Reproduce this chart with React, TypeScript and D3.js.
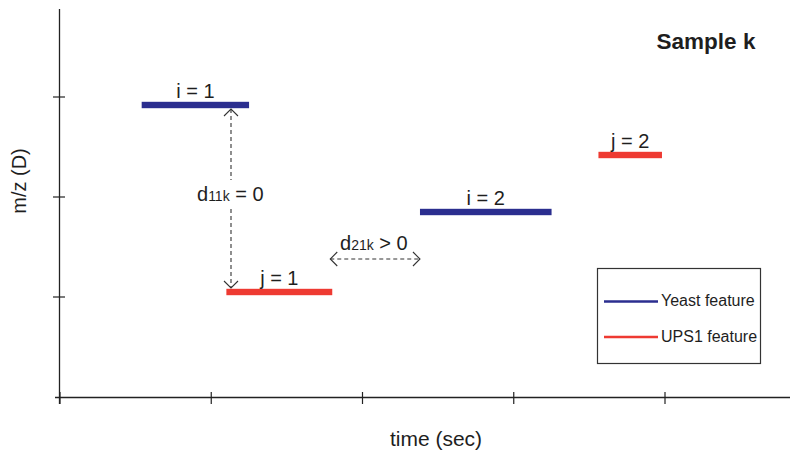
import React from "react";
import * as d3 from "d3";

const W = 795;
const H = 458;

// axis ticks (unlabelled)
const xTicks = [0, 1, 2, 3, 4];
const yTicks = [1, 2, 3];

// features: [start time, end time, m/z]
const featureNames = ["i = 1", "j = 1", "i = 2", "j = 2"];
const featureKind = ["yeast", "ups", "yeast", "ups"];
const featureStart = [0.54, 1.1, 2.38, 3.56];
const featureEnd = [1.25, 1.8, 3.25, 3.98];
const featureMz = [2.92, 1.05, 1.85, 2.42];

const legendLabels = ["Yeast feature", "UPS1 feature"];
const colors: Record<string, string> = { yeast: "#2b2e8f", ups: "#ee3a32" };

const FONT = "'Liberation Sans', Arial, Helvetica, sans-serif";

export default function App() {
  const x = d3.scaleLinear().domain([0, 4]).range([60, 665]);
  const y = d3.scaleLinear().domain([0, 4]).range([397, -3]);
  const axisColor = "#222";
  const textColor = "#1e1e1e";

  const chevron = (tx: number, ty: number, dir: "up" | "down" | "left" | "right") => {
    const s = 7;
    let d = "";
    if (dir === "up") d = `M${tx - s},${ty + s} L${tx},${ty} L${tx + s},${ty + s}`;
    if (dir === "down") d = `M${tx - s},${ty - s} L${tx},${ty} L${tx + s},${ty - s}`;
    if (dir === "left") d = `M${tx + s},${ty - s} L${tx},${ty} L${tx + s},${ty + s}`;
    if (dir === "right") d = `M${tx - s},${ty - s} L${tx},${ty} L${tx - s},${ty + s}`;
    return <path d={d} fill="none" stroke="#333" strokeWidth={1.1} />;
  };

  // vertical arrow between i=1 and j=1
  const vx = 231;
  const vTop = y(featureMz[0]) + 4;
  const vBot = y(featureMz[1]) - 4;
  // horizontal arrow between j=1 end and i=2 start
  const hy = 259;
  const hL = x(featureEnd[1]) - 2;
  const hR = x(featureStart[2]);

  return (
    <svg width={W} height={H} style={{ position: "absolute", left: 0, top: 0, background: "#fff" }} fontFamily={FONT}>
      {/* axes */}
      <line x1={59.5} x2={59.5} y1={9} y2={404} stroke={axisColor} strokeWidth={1.3} />
      <line x1={55} x2={790} y1={397.5} y2={397.5} stroke={axisColor} strokeWidth={1.5} />
      {xTicks.map((t) => (
        <line key={"xt" + t} x1={x(t)} x2={x(t)} y1={392} y2={404} stroke={axisColor} strokeWidth={1.2} />
      ))}
      {yTicks.map((t) => (
        <line key={"yt" + t} x1={53} x2={65} y1={y(t)} y2={y(t)} stroke={axisColor} strokeWidth={1.2} />
      ))}

      {/* axis titles */}
      <text x={436} y={446} textAnchor="middle" fontSize={21} fill={textColor}>time (sec)</text>
      <text transform={`translate(26,181) rotate(-90)`} textAnchor="middle" fontSize={20} fill={textColor}>m/z (D)</text>

      <text x={706} y={48.5} textAnchor="middle" fontSize={22.5} fontWeight="bold" fill={textColor}>Sample k</text>

      {/* features */}
      {featureNames.map((n, i) => (
        <g key={n}>
          <rect
            x={x(featureStart[i])}
            y={y(featureMz[i]) - 3.2}
            width={x(featureEnd[i]) - x(featureStart[i])}
            height={6.4}
            fill={colors[featureKind[i]]}
          />
          <text
            x={(x(featureStart[i]) + x(featureEnd[i])) / 2}
            y={y(featureMz[i]) - 7}
            textAnchor="middle"
            fontSize={20}
            fill={textColor}
          >
            {n}
          </text>
        </g>
      ))}

      {/* vertical distance arrow */}
      <line x1={vx} x2={vx} y1={vTop} y2={180} stroke="#333" strokeWidth={1.1} strokeDasharray="4,3" />
      <line x1={vx} x2={vx} y1={209} y2={vBot} stroke="#333" strokeWidth={1.1} strokeDasharray="4,3" />
      {chevron(vx, vTop, "up")}
      {chevron(vx, vBot, "down")}
      <text x={197} y={201} fontSize={20} fill={textColor}>
        d<tspan fontSize={14}>11k</tspan> = 0
      </text>

      {/* horizontal distance arrow */}
      <line x1={hL} x2={hR} y1={hy} y2={hy} stroke="#333" strokeWidth={1.1} strokeDasharray="4,3" />
      {chevron(hL, hy, "left")}
      {chevron(hR, hy, "right")}
      <text x={340} y={250} fontSize={20} fill={textColor}>
        d<tspan fontSize={14}>21k</tspan> &gt; 0
      </text>

      {/* legend */}
      <rect x={597.5} y={268.5} width={163} height={95} fill="none" stroke="#333" strokeWidth={1.2} />
      {legendLabels.map((l, i) => (
        <g key={l}>
          <line x1={604} x2={658} y1={301.5 + i * 35.5} y2={301.5 + i * 35.5} stroke={colors[i === 0 ? "yeast" : "ups"]} strokeWidth={2.5} />
          <text x={661} y={306 + i * 35.5} fontSize={16} fill={textColor}>{l}</text>
        </g>
      ))}
    </svg>
  );
}
